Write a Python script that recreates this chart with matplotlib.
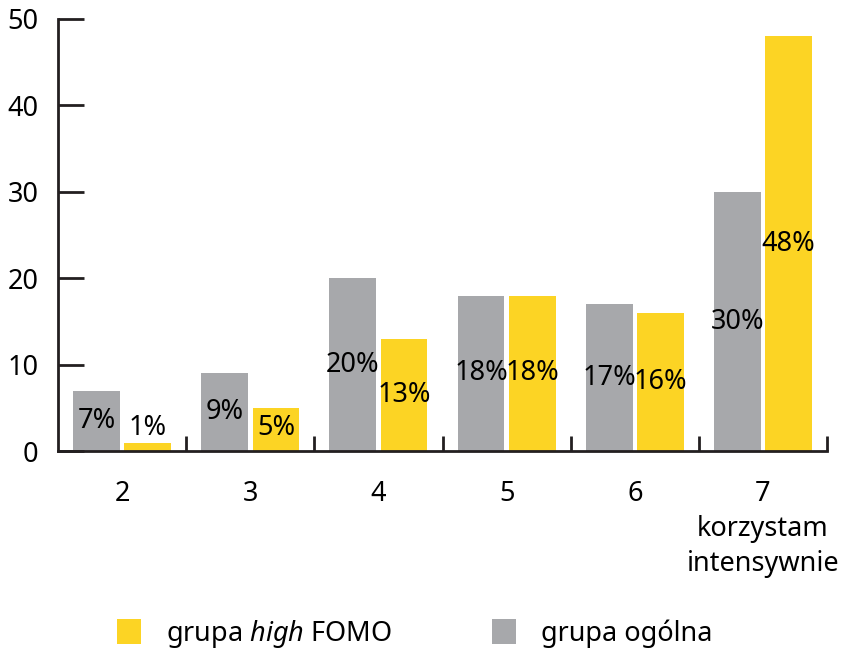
import matplotlib
matplotlib.use("Agg")
import matplotlib.pyplot as plt
import numpy as np

plt.rcParams['font.family'] = ['Noto Sans', 'DejaVu Sans']
plt.rcParams['mathtext.fontset'] = 'custom'
plt.rcParams['mathtext.rm'] = 'Noto Sans'
plt.rcParams['mathtext.it'] = 'Noto Sans:italic'

categories = ["2", "3", "4", "5", "6", "7\nkorzystam\nintensywnie"]
ogolna = [7, 9, 20, 18, 17, 30]
high_fomo = [1, 5, 13, 18, 16, 48]

GRAY = "#a7a8ab"
YELLOW = "#fcd424"

fig = plt.figure(figsize=(8.46, 6.52), dpi=100)
ax = fig.add_axes([0.0686, 0.308, 0.909, 0.663])

x = np.arange(len(categories))
w = 0.365
ax.bar(x - 0.2, ogolna, w, color=GRAY, label="grupa ogólna")
ax.bar(x + 0.2, high_fomo, w, color=YELLOW, label="grupa $\\it{high}$ FOMO")

fs = 19.5
for xi, v in zip(x, ogolna):
    ax.text(xi - 0.2, max(v / 2, 2.7), f"{v}%", ha="center", va="center", fontsize=fs)
for xi, v in zip(x, high_fomo):
    ax.text(xi + 0.2, max(v / 2, 2.7), f"{v}%", ha="center", va="center", fontsize=fs)

ax.set_xlim(-0.5, 5.5)
ax.set_ylim(0, 50)
ax.set_yticks(range(0, 51, 10))
ax.set_xticks(x)
ax.set_xticklabels(categories, fontsize=fs, linespacing=1.32)
ax.set_xticks(x + 0.5, minor=True)
ax.tick_params(axis="x", which="major", length=0, pad=21)
ax.tick_params(axis="x", which="minor", direction="in", length=11, width=2, color="#231f20")
ax.tick_params(axis="y", direction="in", length=19, width=2, labelsize=fs, pad=14, color="#231f20")
for s in ["top", "right"]:
    ax.spines[s].set_visible(False)
for s in ["left", "bottom"]:
    ax.spines[s].set_linewidth(2)
    ax.spines[s].set_color("#231f20")

h, l = ax.get_legend_handles_labels()
fig.legend(h[::-1], l[::-1], loc="lower center", bbox_to_anchor=(0.49, -0.034), ncol=2,
           frameon=False, fontsize=fs, handlelength=0.9, handleheight=1.05,
           columnspacing=3.7, handletextpad=0.9)

fig.savefig("out.png", dpi=100)
